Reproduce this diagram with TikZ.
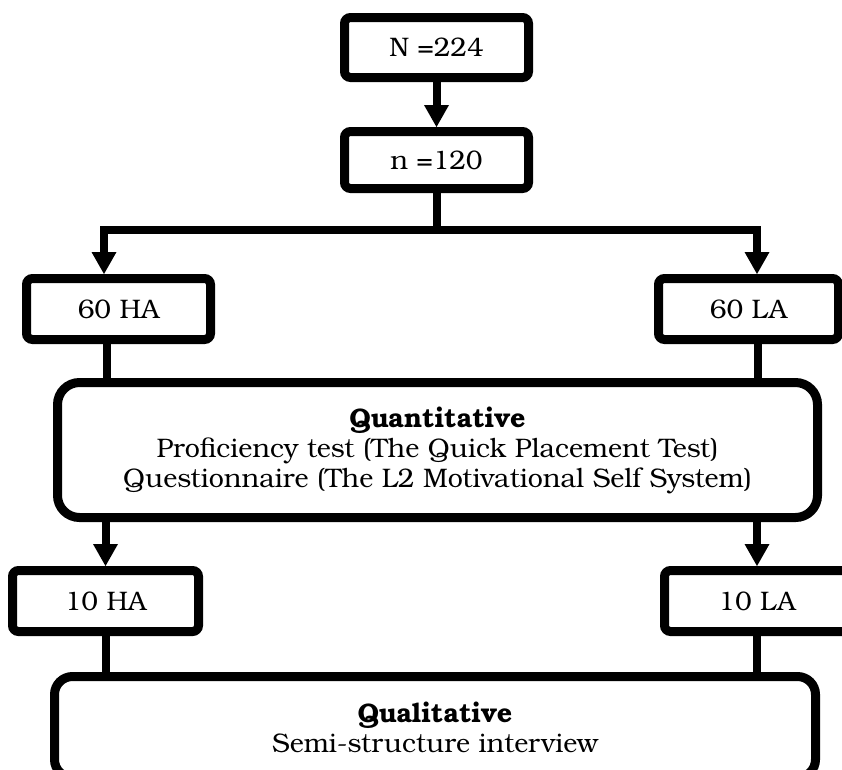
\documentclass[tikz,border=0pt]{standalone}
\usepackage{fontspec}
\setmainfont{TeX Gyre Bonum}
\usetikzlibrary{arrows.meta}
\begin{document}
\begin{tikzpicture}[x=1pt,y=-1pt,
  every node/.style={font=\fontsize{26.8}{30}\selectfont},
  box/.style={draw, line width=9pt, rounded corners=6pt, inner sep=0pt, align=center, minimum height=61pt},
  bigbox/.style={box, rounded corners=22pt},
  conn/.style={line width=8pt},
  arr/.style={conn, -{Triangle[width=25pt,length=22pt,line width=0pt]}}
]
\useasboundingbox (0,0) rectangle (842,769);
\clip (0,0) rectangle (842,769);
\node[box, minimum width=184pt, minimum height=60pt] (N) at (436.5,47.5) {N =224};
\node[box, minimum width=184pt, minimum height=57pt] (n) at (436.5,160) {n =120};
\node[box, minimum width=184pt] (HA) at (118.5,309) {60 HA};
\node[box, minimum width=180pt] (LA) at (748.5,309) {60 LA};
\node[bigbox, minimum width=760pt, minimum height=135pt] (Q) at (437.5,450)
  {\textbf{Quantitative}\\Proficiency test (The Quick Placement Test)\\Questionnaire (The L2 Motivational Self System)};
\node[box, minimum width=186pt] (H10) at (105.5,601) {10 HA};
\node[box, minimum width=185pt] (L10) at (757,601) {10 LA};
\node[box, rounded corners=18pt, minimum width=761pt, minimum height=101pt] (QL) at (435,727)
  {\textbf{Qualitative}\\Semi-structure interview};
% connectors
\draw[arr] (N) -- (n);
\coordinate (aL) at ([xshift=-14.5pt]HA.north);
\coordinate (aR) at ([xshift=8.5pt]LA.north);
\coordinate (j) at (n.south |- 0,230);
\draw[arr] (n.south) -- (j) -| (aL);
\draw[arr] (j) -| (aR);
\coordinate (bL) at ([xshift=-11.5pt]HA.south);
\coordinate (bR) at ([xshift=9.5pt]LA.south);
\draw[conn] (bL) -- (bL |- Q.north);
\draw[conn] (bR) -- (bR |- Q.north);
\draw[arr] (Q.south -| H10.north) -- (H10.north);
\draw[arr] (Q.south -| L10.north) -- (L10.north);
\draw[conn] (H10.south) -- (H10.south |- QL.north);
\draw[conn] (L10.south) -- (L10.south |- QL.north);
\end{tikzpicture}
\end{document}
